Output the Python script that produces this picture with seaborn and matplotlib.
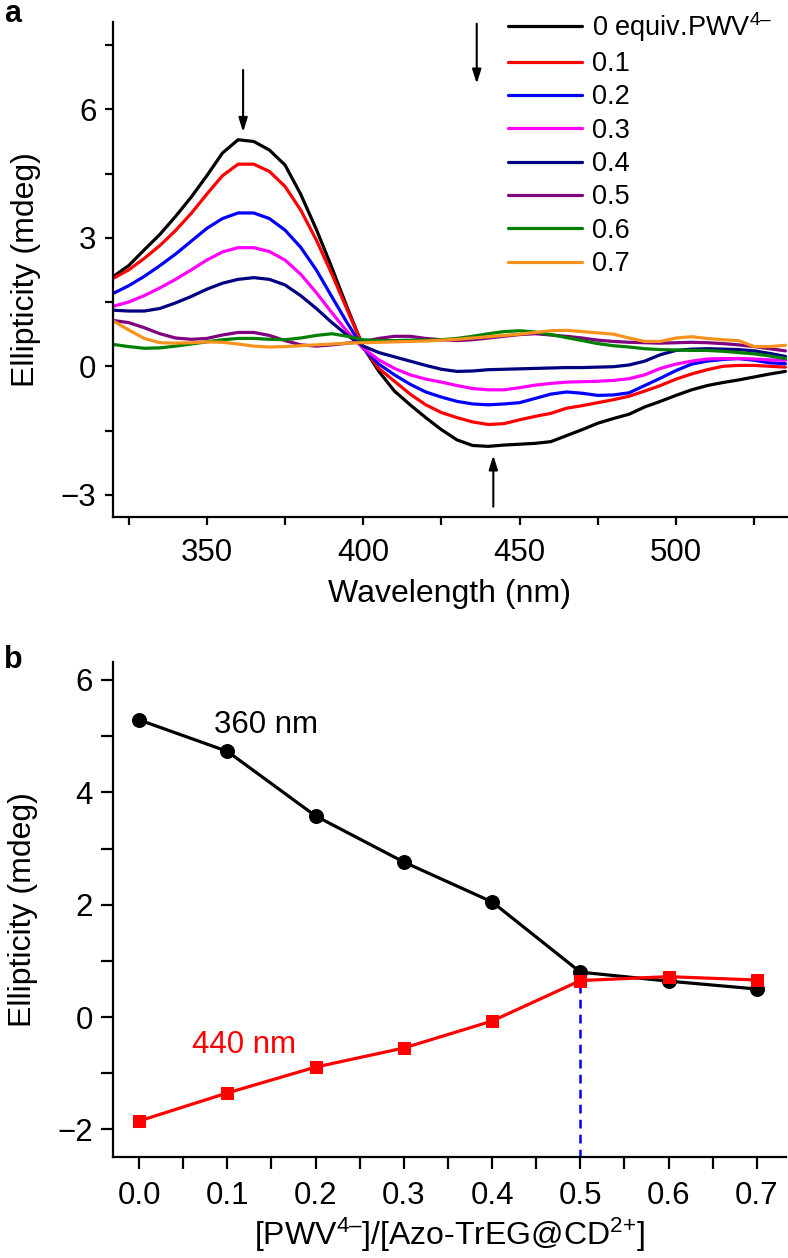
import numpy as np
import pandas as pd
import matplotlib
matplotlib.use("Agg")
import matplotlib.pyplot as plt
import seaborn as sns

# ---------------- data: panel a (CD spectra) ----------------
wavelength = list(range(320, 540, 5))

cd_0_0 = [2.09, 2.35, 2.72, 3.08, 3.50, 3.95, 4.45, 4.98, 5.29, 5.25, 5.05, 4.70, 4.02, 3.20, 2.30, 1.35,
          0.45, -0.12, -0.58, -0.90, -1.20, -1.48, -1.72, -1.85, -1.87, -1.84, -1.82, -1.80, -1.76, -1.62,
          -1.48, -1.33, -1.22, -1.12, -0.95, -0.82, -0.68, -0.55, -0.45, -0.38, -0.32, -0.25, -0.18, -0.12]
cd_0_1 = [2.05, 2.25, 2.52, 2.82, 3.17, 3.57, 4.02, 4.45, 4.72, 4.72, 4.55, 4.20, 3.65, 2.95, 2.15, 1.30,
          0.45, -0.05, -0.35, -0.65, -0.90, -1.08, -1.20, -1.30, -1.36, -1.34, -1.25, -1.17, -1.10, -0.98,
          -0.92, -0.85, -0.78, -0.70, -0.58, -0.45, -0.30, -0.18, -0.08, 0.00, 0.02, 0.02, 0.00, -0.02]
cd_0_2 = [1.70, 1.88, 2.10, 2.35, 2.62, 2.92, 3.22, 3.45, 3.58, 3.58, 3.45, 3.18, 2.78, 2.25, 1.62, 1.00,
          0.42, 0.05, -0.20, -0.42, -0.60, -0.72, -0.82, -0.88, -0.90, -0.88, -0.85, -0.75, -0.65, -0.60,
          -0.63, -0.68, -0.67, -0.62, -0.45, -0.28, -0.10, 0.05, 0.12, 0.16, 0.18, 0.14, 0.08, 0.06]
cd_0_3 = [1.40, 1.50, 1.65, 1.83, 2.03, 2.25, 2.48, 2.67, 2.77, 2.77, 2.68, 2.48, 2.15, 1.72, 1.25, 0.80,
          0.42, 0.15, -0.05, -0.20, -0.30, -0.37, -0.45, -0.52, -0.55, -0.55, -0.50, -0.44, -0.40, -0.37,
          -0.36, -0.35, -0.33, -0.29, -0.20, -0.05, 0.05, 0.12, 0.17, 0.18, 0.18, 0.17, 0.15, 0.14]
cd_0_4 = [1.31, 1.29, 1.29, 1.35, 1.48, 1.63, 1.80, 1.94, 2.03, 2.07, 2.03, 1.90, 1.65, 1.35, 1.02, 0.72,
          0.47, 0.32, 0.22, 0.12, 0.02, -0.07, -0.12, -0.11, -0.08, -0.07, -0.06, -0.05, -0.04, -0.03,
          -0.03, -0.02, -0.01, 0.03, 0.12, 0.27, 0.37, 0.40, 0.41, 0.40, 0.39, 0.36, 0.30, 0.23]
cd_0_5 = [1.07, 1.02, 0.90, 0.76, 0.66, 0.63, 0.65, 0.73, 0.79, 0.79, 0.72, 0.60, 0.50, 0.47, 0.50, 0.54,
          0.58, 0.65, 0.70, 0.70, 0.65, 0.62, 0.60, 0.62, 0.66, 0.70, 0.74, 0.76, 0.73, 0.70,
          0.66, 0.61, 0.58, 0.56, 0.55, 0.54, 0.55, 0.56, 0.55, 0.53, 0.50, 0.46, 0.41, 0.36]
cd_0_6 = [0.51, 0.46, 0.42, 0.43, 0.47, 0.52, 0.57, 0.62, 0.65, 0.65, 0.63, 0.62, 0.66, 0.72, 0.76, 0.70,
          0.62, 0.60, 0.60, 0.61, 0.61, 0.62, 0.65, 0.70, 0.76, 0.81, 0.83, 0.80, 0.74, 0.67,
          0.60, 0.53, 0.48, 0.45, 0.41, 0.39, 0.38, 0.37, 0.37, 0.35, 0.32, 0.29, 0.24, 0.18]
cd_0_7 = [1.06, 0.85, 0.65, 0.55, 0.54, 0.55, 0.57, 0.56, 0.52, 0.47, 0.45, 0.46, 0.48, 0.50, 0.52, 0.54,
          0.55, 0.56, 0.57, 0.58, 0.59, 0.61, 0.63, 0.66, 0.69, 0.72, 0.75, 0.79, 0.83, 0.84,
          0.81, 0.78, 0.75, 0.66, 0.58, 0.58, 0.66, 0.69, 0.65, 0.62, 0.60, 0.46, 0.46, 0.49]

series_names = ["0 equiv.PWV$^{4\u2013}$", "0.1", "0.2", "0.3", "0.4", "0.5", "0.6", "0.7"]
series_values = [cd_0_0, cd_0_1, cd_0_2, cd_0_3, cd_0_4, cd_0_5, cd_0_6, cd_0_7]
series_colors = ["#000000", "#ff0000", "#0000ff", "#ff00ff", "#000080", "#800080", "#008000", "#f7921e"]

# ---------------- data: panel b (titration) ----------------
ratio = [0.0, 0.1, 0.2, 0.3, 0.4, 0.5, 0.6, 0.7]
ell_360 = [5.29, 4.73, 3.58, 2.76, 2.05, 0.80, 0.64, 0.50]
ell_440 = [-1.85, -1.35, -0.89, -0.55, -0.07, 0.65, 0.72, 0.66]

# ---------------- style ----------------
sns.set_theme(style="ticks")
plt.rcParams["font.family"] = ["Liberation Sans", "DejaVu Sans"]
plt.rcParams["mathtext.fontset"] = "custom"
plt.rcParams["mathtext.rm"] = "Liberation Sans"
plt.rcParams["mathtext.it"] = "Liberation Sans:italic"
plt.rcParams["mathtext.default"] = "regular"
plt.rcParams["text.color"] = "black"
plt.rcParams["axes.labelcolor"] = "black"
plt.rcParams["xtick.color"] = "black"
plt.rcParams["ytick.color"] = "black"
plt.rcParams["lines.solid_joinstyle"] = "round"

W, H = 788, 1258
fig = plt.figure(figsize=(W / 100, H / 100), dpi=100)

def ax_rect(l, t, r, b):
    return [l / W, 1 - b / H, (r - l) / W, (b - t) / H]

tick_fs = 22.5
lab_fs = 23

# ---------------- panel a ----------------
axa = fig.add_axes(ax_rect(113, 22, 787, 517))
rows = []
for name, vals in zip(series_names, series_values):
    for w, v in zip(wavelength, vals):
        rows.append({"wl": w, "ell": v, "series": name})
df_a = pd.DataFrame(rows)
sns.lineplot(data=df_a, x="wl", y="ell", hue="series", hue_order=series_names,
             palette=dict(zip(series_names, series_colors)), linewidth=2.3,
             ax=axa, legend=True, sort=False)
axa.set_xlim(320, 535.5)
axa.set_ylim(-3.52, 8.04)
axa.set_xticks([350, 400, 450, 500])
axa.set_xticks([325, 375, 425, 475, 525], minor=True)
axa.set_yticks([-3, 0, 3, 6])
axa.set_yticklabels(["\u22123", "0", "3", "6"])
axa.set_yticks([-1.5, 1.5, 4.5, 7.5], minor=True)
axa.set_xlabel("Wavelength (nm)", fontsize=lab_fs, labelpad=8)
axa.set_ylabel("Ellipticity (mdeg)", fontsize=lab_fs, labelpad=14)

handles, labels = axa.get_legend_handles_labels()
leg = axa.legend(handles, labels, loc="upper left",
                 bbox_to_anchor=(508 / W, 1 - 10 / H), bbox_transform=fig.transFigure,
                 frameon=False, fontsize=19.5, handlelength=2.72, handletextpad=0.38,
                 labelspacing=0.27, borderpad=0, borderaxespad=0)
for l in leg.get_lines():
    l.set_linewidth(2.3)

arrow_kw = dict(arrowstyle="-|>,head_length=0.7,head_width=0.22", color="black", lw=1.5,
                shrinkA=0, shrinkB=0)
axa.annotate("", xy=(361.6, 5.47), xytext=(361.6, 6.92), arrowprops=arrow_kw)
axa.annotate("", xy=(436.3, 6.6), xytext=(436.3, 8.0), arrowprops=arrow_kw)
axa.annotate("", xy=(441.6, -2.08), xytext=(441.6, -3.28), arrowprops=arrow_kw)

# ---------------- panel b ----------------
axb = fig.add_axes(ax_rect(113, 662, 786, 1157))
df_b = pd.DataFrame({"ratio": ratio, "e360": ell_360, "e440": ell_440})
axb.vlines(0.5, -2.5, ell_440[5], colors="#0000ee", linestyles=(0, (3.5, 2.5)), linewidth=1.8, zorder=1)
sns.lineplot(data=df_b, x="ratio", y="e360", color="black", marker="o", markersize=10,
             markeredgecolor="black", linewidth=2.3, ax=axb, zorder=3)
sns.lineplot(data=df_b, x="ratio", y="e440", color="#ff0000", marker="s", markersize=9,
             markeredgecolor="#ff0000", linewidth=2.3, ax=axb, zorder=4)
axb.set_xlim(-0.0295, 0.733)
axb.set_ylim(-2.49, 6.32)
axb.set_xticks(ratio)
axb.set_xticklabels([f"{r:.1f}" for r in ratio])
axb.set_xticks([0.05, 0.15, 0.25, 0.35, 0.45, 0.55, 0.65], minor=True)
axb.set_yticks([-2, 0, 2, 4, 6])
axb.set_yticklabels(["\u22122", "0", "2", "4", "6"])
axb.set_yticks([-1, 1, 3, 5], minor=True)
axb.set_xlabel("[PWV$^{4\u2013}$]/[Azo-TrEG@CD$^{2{+}}$]", fontsize=lab_fs, labelpad=3)
axb.set_ylabel("Ellipticity (mdeg)", fontsize=lab_fs, labelpad=14)
axb.text(0.144, 5.19, "360 nm", fontsize=22.5, color="black", ha="center", va="center")
axb.text(0.119, -0.5, "440 nm", fontsize=22.5, color="#ff0000", ha="center", va="center")

for ax, tl in ((axa, 6), (axb, 8.5)):
    sns.despine(ax=ax)
    for s in ("left", "bottom"):
        ax.spines[s].set_linewidth(1.6)
        ax.spines[s].set_color("black")
    ax.tick_params(axis="both", which="both", direction="out", width=1.6, color="black",
                   labelsize=tick_fs, labelcolor="black", length=tl)
    ax.tick_params(axis="x", which="major", pad=9)
    ax.tick_params(axis="y", which="major", pad=6)

fig.text(4 / W, 1 - 14 / H, "a", fontsize=22, fontweight="bold", va="center", ha="left")
fig.text(4 / W, 1 - 660 / H, "b", fontsize=22, fontweight="bold", va="center", ha="left")

fig.savefig("out.png", dpi=100)
